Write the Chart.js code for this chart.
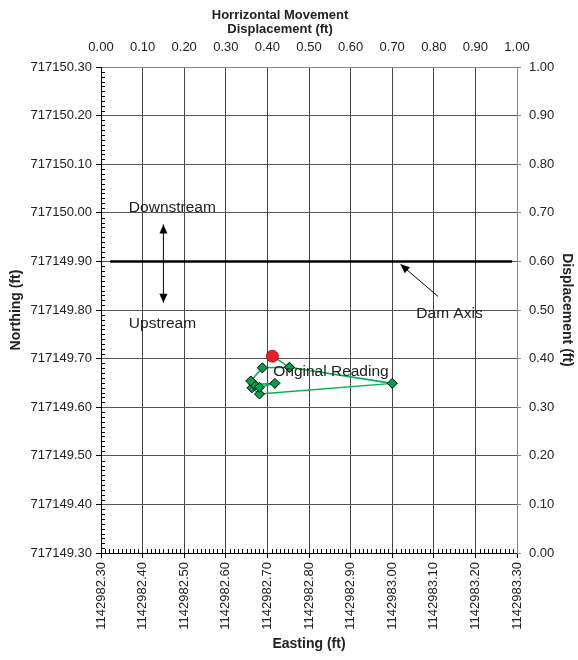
<!DOCTYPE html>
<html>
<head>
<meta charset="utf-8">
<script src="https://cdn.jsdelivr.net/npm/chart.js@4.4.1/dist/chart.umd.min.js"></script>
<style>
  body { margin: 0; background: #fff; }
  #wrap { width: 578px; height: 660px; }
</style>
</head>
<body>
<div id="wrap"><canvas id="chart" width="578" height="660"></canvas></div>
<script>
// readings (easting / northing, ft)
const readEasting  = [1142982.712, 1142982.753, 1142983.000, 1142982.681, 1142982.663, 1142982.668, 1142982.718, 1142982.681, 1142982.660, 1142982.688, 1142982.753];
const readNorthing = [717149.705, 717149.682, 717149.649, 717149.627, 717149.640, 717149.647, 717149.649, 717149.641, 717149.654, 717149.681, 717149.682];
// original reading
const origEasting  = [1142982.712];
const origNorthing = [717149.705];
// dam axis
const damEasting   = [1142982.322, 1142983.288];
const damNorthing  = [717149.90, 717149.90];
// axis ranges
const eastRange  = [1142982.30, 1142983.30];
const northRange = [717149.30, 717150.30];
const dispRange  = [0, 1];
const topTitle   = ['Horrizontal Movement', 'Displacement (ft)'];

const FONT = "'Liberation Sans', Arial, sans-serif";
const TXT = '#222';

function pts(xs, ys){
    return xs.map((x, i) => ({x: x, y: ys[i]}));
}

// text and arrow notes, placed in data units
const notes = [
    {text: 'Downstream',       e: 1142982.367, n: 717150.011},
    {text: 'Upstream',         e: 1142982.367, n: 717149.772},
    {text: 'Dam Axis',         e: 1142983.058, n: 717149.793},
    {text: 'Original Reading', e: 1142982.714, n: 717149.673}
];
const arrows = [
    {e1: 1142982.450, n1: 717149.815, e2: 1142982.450, n2: 717149.976, both: true},
    {e1: 1142983.110, n1: 717149.828, e2: 1142983.020, n2: 717149.894, both: false}
];

function head(ctx, x1, y1, x2, y2){
    const a = Math.atan2(y2 - y1, x2 - x1);
    const L = 9, W = 4;
    ctx.beginPath();
    ctx.moveTo(x2, y2);
    ctx.lineTo(x2 - L*Math.cos(a) + W*Math.sin(a), y2 - L*Math.sin(a) - W*Math.cos(a));
    ctx.lineTo(x2 - L*Math.cos(a) - W*Math.sin(a), y2 - L*Math.sin(a) + W*Math.cos(a));
    ctx.closePath();
    ctx.fill();
}

const notePlugin = {
    id: 'notes',
    afterDatasetsDraw(chart){
        const ctx = chart.ctx;
        const xs = chart.scales.x, ys = chart.scales.y;
        ctx.save();
        ctx.fillStyle = TXT;
        ctx.font = '15.5px ' + FONT;
        ctx.textBaseline = 'middle';
        ctx.textAlign = 'left';
        notes.forEach(n => ctx.fillText(n.text, xs.getPixelForValue(n.e), ys.getPixelForValue(n.n)));
        ctx.strokeStyle = '#000';
        ctx.fillStyle = '#000';
        ctx.lineWidth = 1;
        arrows.forEach(a => {
            const x1 = xs.getPixelForValue(a.e1), y1 = ys.getPixelForValue(a.n1);
            const x2 = xs.getPixelForValue(a.e2), y2 = ys.getPixelForValue(a.n2);
            ctx.beginPath();
            ctx.moveTo(x1, y1);
            ctx.lineTo(x2, y2);
            ctx.stroke();
            head(ctx, x1, y1, x2, y2);
            if(a.both) head(ctx, x2, y2, x1, y1);
        });
        ctx.restore();
    },
    afterDraw(chart){
        const ctx = chart.ctx;
        const xs = chart.scales.x, ys = chart.scales.y;
        const area = chart.chartArea;
        ctx.save();
        // minor ticks on left and bottom axes
        ctx.strokeStyle = '#000';
        ctx.lineWidth = 1;
        ctx.beginPath();
        for(let i = 1; i < 100; i++){
            if(i % 10 == 0) continue;
            const py = Math.round(ys.getPixelForValue(northRange[0] + i*0.01)) + 0.5;
            ctx.moveTo(area.left, py);
            ctx.lineTo(area.left + 4, py);
            const px = Math.round(xs.getPixelForValue(eastRange[0] + i*0.01)) + 0.5;
            ctx.moveTo(px, area.bottom);
            ctx.lineTo(px, area.bottom - 4);
        }
        ctx.stroke();
        // top axis title, centred on the whole picture like the original
        ctx.fillStyle = TXT;
        ctx.font = 'bold 13px ' + FONT;
        ctx.textAlign = 'center';
        ctx.textBaseline = 'middle';
        topTitle.forEach((t, i) => ctx.fillText(t, 280, 15 + i*14));
        ctx.restore();
    }
};

const tickFont = {family: FONT, size: 13};
const titleFont = {family: FONT, size: 14, weight: 'bold'};

new Chart(document.getElementById('chart').getContext('2d'), {
    type: 'scatter',
    data: {
        datasets: [{
            label: 'Original Reading',
            data: pts(origEasting, origNorthing),
            pointRadius: 6,
            pointBackgroundColor: '#ee1c24',
            pointBorderColor: '#8a1010',
            pointBorderWidth: 0.8,
            showLine: false
        }, {
            label: 'Readings',
            data: pts(readEasting, readNorthing),
            showLine: true,
            borderColor: '#00b050',
            borderWidth: 1.5,
            pointStyle: 'rectRot',
            pointRadius: 5,
            pointBackgroundColor: '#00a04c',
            pointBorderColor: '#000',
            pointBorderWidth: 1
        }, {
            label: 'Dam Axis',
            data: pts(damEasting, damNorthing),
            showLine: true,
            borderColor: '#000',
            borderWidth: 2.5,
            pointRadius: 0
        }]
    },
    options: {
        responsive: false,
        animation: false,
        plugins: { legend: {display: false}, tooltip: {enabled: false} },
        layout: { padding: 0 },
        scales: {
            x: {
                type: 'linear', position: 'bottom',
                min: eastRange[0], max: eastRange[1],
                afterFit: s => { s.height = 107; },
                ticks: {stepSize: 0.1, maxRotation: 90, minRotation: 90, padding: 4, color: TXT, font: tickFont,
                        callback: v => v.toFixed(2)},
                grid: {color: '#444', tickLength: 5, tickColor: '#000'},
                border: {color: '#000'},
                title: {display: true, text: 'Easting (ft)', color: TXT, font: titleFont, padding: {top: 0, bottom: 7}}
            },
            x2: {
                type: 'linear', position: 'top',
                min: dispRange[0], max: dispRange[1],
                afterFit: s => { s.height = 67; },
                ticks: {stepSize: 0.1, maxRotation: 0, padding: 4, color: TXT, font: tickFont,
                        callback: v => v.toFixed(2)},
                grid: {display: false},
                border: {display: true, color: '#888'}
            },
            y: {
                type: 'linear', position: 'left',
                min: northRange[0], max: northRange[1],
                afterFit: s => { s.width = 101; },
                ticks: {stepSize: 0.1, padding: 4, color: TXT, font: tickFont,
                        callback: v => v.toFixed(2)},
                grid: {color: '#555', tickLength: 5, tickColor: '#000'},
                border: {color: '#000'},
                title: {display: true, text: 'Northing (ft)', color: TXT, font: titleFont, padding: {top: 8, bottom: 0}}
            },
            y2: {
                type: 'linear', position: 'right',
                min: dispRange[0], max: dispRange[1],
                afterFit: s => { s.width = 61; },
                ticks: {stepSize: 0.1, padding: 8, color: TXT, font: tickFont,
                        callback: v => v.toFixed(2)},
                grid: {display: true, drawOnChartArea: false, tickLength: 4, color: '#888'},
                border: {color: '#888'},
                title: {display: true, text: 'Displacement (ft)', color: TXT, font: titleFont, padding: {top: 3, bottom: 0}}
            }
        }
    },
    plugins: [notePlugin]
});
</script>
</body>
</html>
